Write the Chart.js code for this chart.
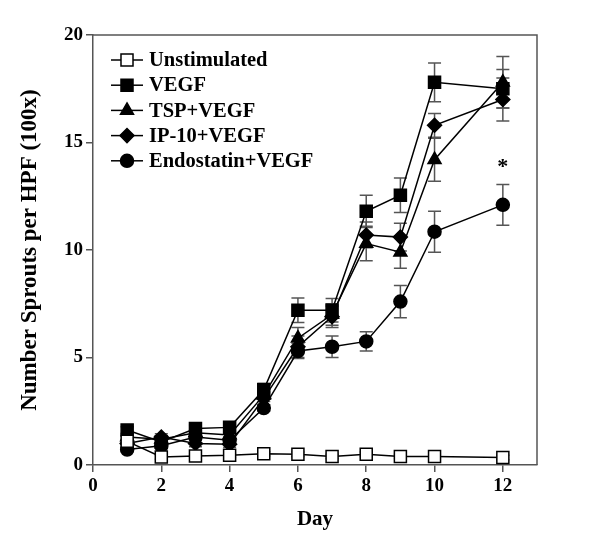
<!DOCTYPE html>
<html>
<head>
<meta charset="utf-8">
<script src="https://cdn.jsdelivr.net/npm/chart.js@4"></script>
<style>
  html, body { margin: 0; padding: 0; background: #fff; }
  #wrap { width: 600px; height: 548px; }
</style>
</head>
<body>
<div id="wrap"><canvas id="chart" width="600" height="548"></canvas></div>
<script>
// days of measurement
const days = [1, 2, 3, 4, 5, 6, 7, 8, 9, 10, 12];

// sprouts per HPF
const unstimulated    = [1.1, 0.37, 0.42, 0.45, 0.52, 0.5, 0.4, 0.5, 0.4, 0.4, 0.35];
const unstimulatedErr = [0.1, 0.1, 0.1, 0.1, 0.1, 0.1, 0.1, 0.1, 0.1, 0.1, 0.1];
const vegf            = [1.63, 1.07, 1.7, 1.75, 3.5, 7.2, 7.2, 11.8, 12.55, 17.8, 17.5];
const vegfErr         = [0.15, 0.15, 0.15, 0.15, 0.3, 0.57, 0.55, 0.75, 0.8, 0.9, 0.9];
const tspVegf         = [1.3, 1.2, 1.5, 1.4, 3.25, 5.9, 7.0, 10.3, 9.9, 14.2, 17.8];
const tspVegfErr      = [0.15, 0.15, 0.15, 0.15, 0.3, 0.5, 0.5, 0.8, 0.75, 1.0, 1.2];
const ip10Vegf        = [1.0, 1.3, 1.0, 0.97, 3.1, 5.5, 6.9, 10.7, 10.6, 15.8, 17.0];
const ip10VegfErr     = [0.1, 0.15, 0.15, 0.15, 0.3, 0.5, 0.5, 0.6, 0.65, 0.55, 1.0];
const endoVegf        = [0.72, 0.9, 1.3, 1.15, 2.65, 5.3, 5.5, 5.75, 7.6, 10.85, 12.1];
const endoVegfErr     = [0.1, 0.1, 0.15, 0.15, 0.15, 0.35, 0.5, 0.45, 0.75, 0.95, 0.95];

const xTicks = [0, 2, 4, 6, 8, 10, 12];
const yTicks = [0, 5, 10, 15, 20];

// significance marker
const starDay = 12;
const starValue = 14.05;

const FONT = '"Liberation Serif", "Times New Roman", serif';
const AXIS = '#555';

function pts(vals) {
  return vals.map((v, i) => ({ x: days[i], y: v }));
}

function series(label, vals, errs, style, radius, fill) {
  return {
    label: label,
    data: pts(vals),
    errors: errs,
    borderColor: '#000',
    borderWidth: 1.5,
    pointStyle: style,
    pointRadius: radius,
    pointBorderColor: '#000',
    pointBackgroundColor: fill,
    pointBorderWidth: 1.5,
    tension: 0
  };
}

const datasets = [
  series('Unstimulated', unstimulated, unstimulatedErr, 'rect', 8.5, '#fff'),
  series('VEGF', vegf, vegfErr, 'rect', 8.5, '#000'),
  series('TSP+VEGF', tspVegf, tspVegfErr, 'triangle', 7.5, '#000'),
  series('IP-10+VEGF', ip10Vegf, ip10VegfErr, 'rectRot', 7, '#000'),
  series('Endostatin+VEGF', endoVegf, endoVegfErr, 'circle', 6.5, '#000')
];

// vertical error bars with caps, drawn under the markers
const errorBars = {
  id: 'errorBars',
  beforeDatasetsDraw(chart) {
    const ctx = chart.ctx;
    const x = chart.scales.x, y = chart.scales.y;
    ctx.save();
    ctx.strokeStyle = AXIS;
    ctx.lineWidth = 1.5;
    chart.data.datasets.forEach(ds => {
      ds.data.forEach((p, i) => {
        const e = ds.errors[i];
        const px = x.getPixelForValue(p.x);
        const top = y.getPixelForValue(p.y + e);
        const bot = y.getPixelForValue(p.y - e);
        ctx.beginPath();
        ctx.moveTo(px, top); ctx.lineTo(px, bot);
        ctx.moveTo(px - 6.5, top); ctx.lineTo(px + 6.5, top);
        ctx.moveTo(px - 6.5, bot); ctx.lineTo(px + 6.5, bot);
        ctx.stroke();
      });
    });
    ctx.restore();
  }
};

// top and right edges of the frame, legend and asterisk
const extras = {
  id: 'extras',
  afterDraw(chart) {
    const ctx = chart.ctx;
    const a = chart.chartArea;
    ctx.save();
    ctx.strokeStyle = AXIS;
    ctx.lineWidth = 1.5;
    ctx.beginPath();
    ctx.moveTo(a.left, a.top);
    ctx.lineTo(a.right, a.top);
    ctx.lineTo(a.right, a.bottom);
    ctx.stroke();

    // legend
    ctx.font = 'bold 20.5px ' + FONT;
    ctx.textBaseline = 'middle';
    ctx.textAlign = 'left';
    chart.data.datasets.forEach((ds, i) => {
      const ly = a.top + 25 + i * 25.2;
      const lx = a.left + 18;
      ctx.strokeStyle = '#000';
      ctx.lineWidth = 1.5;
      ctx.beginPath();
      ctx.moveTo(lx, ly);
      ctx.lineTo(lx + 32, ly);
      ctx.stroke();
      ctx.fillStyle = ds.pointBackgroundColor;
      Chart.helpers.drawPoint(ctx, {
        pointStyle: ds.pointStyle,
        radius: ds.pointRadius,
        rotation: 0,
        borderWidth: 1.5
      }, lx + 16, ly);
      ctx.fillStyle = '#000';
      ctx.fillText(ds.label, lx + 38, ly + 1);
    });

    // asterisk
    ctx.font = 'bold 22px ' + FONT;
    ctx.textAlign = 'center';
    ctx.fillText('*', chart.scales.x.getPixelForValue(starDay), chart.scales.y.getPixelForValue(starValue) + 4);
    ctx.restore();
  }
};

Chart.defaults.font.family = FONT;
Chart.defaults.font.weight = 'bold';
Chart.defaults.font.size = 19;
Chart.defaults.color = '#000';

new Chart(document.getElementById('chart'), {
  type: 'line',
  data: { datasets: datasets },
  options: {
    responsive: false,
    animation: false,
    layout: { padding: { top: 35, right: 63, left: 0, bottom: 0 } },
    plugins: { legend: { display: false }, tooltip: { enabled: false } },
    scales: {
      x: {
        type: 'linear',
        min: 0,
        max: 13,
        afterBuildTicks: s => { s.ticks = xTicks.map(v => ({ value: v })); },
        afterFit: s => { s.height = 83; },
        ticks: { padding: 3, font: { size: 19, weight: 'bold' } },
        grid: { drawOnChartArea: false, drawTicks: true, tickLength: 7, color: AXIS, lineWidth: 1.5 },
        border: { color: AXIS, width: 1.5 },
        title: { display: true, text: 'Day', padding: { top: 0, bottom: 15.5 }, font: { size: 21, weight: 'bold' } }
      },
      y: {
        min: 0,
        max: 20,
        afterBuildTicks: s => { s.ticks = yTicks.map(v => ({ value: v })); },
        afterFit: s => { s.width = 93; },
        ticks: { padding: 3, font: { size: 19, weight: 'bold' } },
        grid: { drawOnChartArea: false, drawTicks: true, tickLength: 7, color: AXIS, lineWidth: 1.5 },
        border: { color: AXIS, width: 1.5 },
        title: { display: true, text: 'Number Sprouts per HPF (100x)', padding: { top: 16.5, bottom: 0 }, font: { size: 23, weight: 'bold' } }
      }
    }
  },
  plugins: [errorBars, extras]
});
</script>
</body>
</html>
